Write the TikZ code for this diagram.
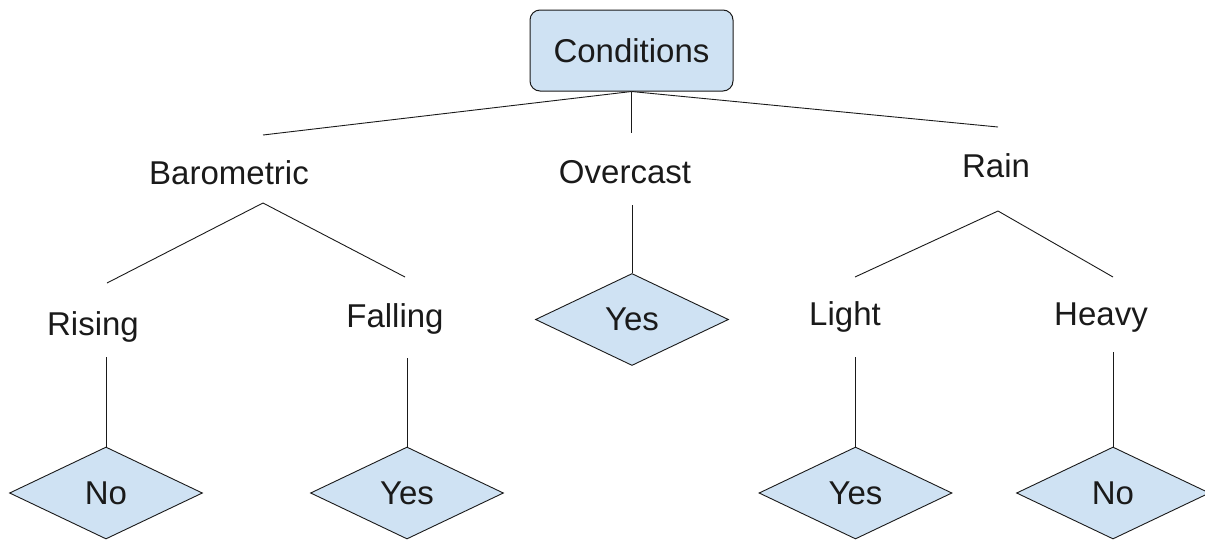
\documentclass[tikz,border=0pt]{standalone}
\usepackage{fontspec}
\setmainfont{Liberation Sans}
\usetikzlibrary{shapes.geometric}
\definecolor{boxfill}{HTML}{CFE2F3}
\definecolor{ink}{HTML}{1A1A1A}
\begin{document}
\begin{tikzpicture}[x=1pt,y=-1pt,
  every node/.style={font=\fontsize{33}{38}\selectfont, text=ink},
  rootbox/.style={draw=ink, fill=boxfill, rounded corners=10pt, line width=1pt,
    minimum width=203pt, minimum height=81pt, inner sep=0pt},
  leaf/.style={draw=ink, fill=boxfill, diamond, line width=0.9pt,
    minimum width=193pt, minimum height=92pt, inner sep=0pt, aspect=2.1},
  lbl/.style={anchor=base, inner sep=0pt},
  conn/.style={draw=ink, line width=0.9pt}]
\useasboundingbox (0,0) rectangle (1205,539);

% root
\node[rootbox] (cond) at (631.5,50.5) {Conditions};

% labels
\node[lbl] (baro) at (229,184) {Barometric};
\node[lbl] (over) at (625,183) {Overcast};
\node[lbl] (rain) at (996,177) {Rain};
\node[lbl] (rising) at (93,335) {Rising};
\node[lbl] (falling) at (395,327) {Falling};
\node[lbl] (light) at (845,325) {Light};
\node[lbl] (heavy) at (1101,325) {Heavy};

% leaves
\node[leaf] (no1) at (106,493) {No};
\node[leaf] (yes1) at (407,493) {Yes};
\node[leaf] (yes2) at (632,319.5) {Yes};
\node[leaf] (yes3) at (855.5,493) {Yes};
\node[leaf] (no2) at (1113,493) {No};

% joint points
\coordinate (baroTop) at (263,135);
\coordinate (overTop) at (631.5,133);
\coordinate (rainTop) at (998,127);
\coordinate (baroApex) at (263,203);
\coordinate (risingEnd) at (107,283);
\coordinate (fallingEnd) at (405,277);
\coordinate (overStem) at (632,205);
\coordinate (rainApex) at (998,211);
\coordinate (lightEnd) at (855,277);
\coordinate (heavyEnd) at (1113,277);
\coordinate (risingStem) at (106,357);
\coordinate (fallingStem) at (407,358);
\coordinate (lightStem) at (855.5,357);
\coordinate (heavyStem) at (1113,352);

% connectors
\draw[conn] (cond.south) -- (baroTop);
\draw[conn] (cond.south) -- (overTop);
\draw[conn] (cond.south) -- (rainTop);
\draw[conn] (risingEnd) -- (baroApex) -- (fallingEnd);
\draw[conn] (lightEnd) -- (rainApex) -- (heavyEnd);
\draw[conn] (overStem) -- (yes2.north);
\draw[conn] (risingStem) -- (no1.north);
\draw[conn] (fallingStem) -- (yes1.north);
\draw[conn] (lightStem) -- (yes3.north);
\draw[conn] (heavyStem) -- (no2.north);
\end{tikzpicture}
\end{document}
